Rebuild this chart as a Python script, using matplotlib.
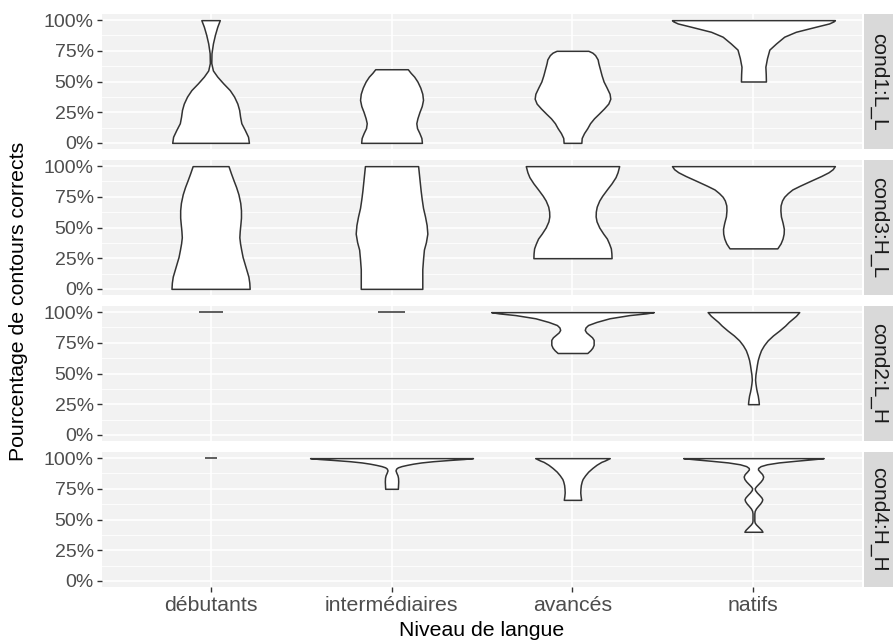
import matplotlib
matplotlib.use("Agg")
import matplotlib.pyplot as plt
import numpy as np

plt.rcParams['font.family'] = ['Liberation Sans', 'DejaVu Sans']

levels = ["débutants", "intermédiaires", "avancés", "natifs"]
conds = ["cond1:L_L", "cond3:H_L", "cond2:L_H", "cond4:H_H"]
yticks = [0, 25, 50, 75, 100]
ytick_labels = ["0%", "25%", "50%", "75%", "100%"]

# violin outlines: percentage levels and half-widths
c1_deb_y = [0, 5, 10.6, 16, 21.4, 26.8, 32, 37.7, 43, 48.5, 54, 59, 65, 73, 81, 88, 94.6, 100]
c1_deb_w = [.212, .207, .189, .170, .163, .158, .148, .130, .106, .070, .037, .013, .004, .005, .013, .024, .037, .051]
c1_int_y = [0, 4, 8, 12, 16, 20, 25, 30, 35, 40, 45, 50, 54, 57, 60]
c1_int_w = [.168, .165, .154, .141, .137, .143, .154, .167, .174, .170, .159, .143, .125, .106, .090]
c1_ava_y = [0, 4, 8, 12, 16, 20, 24, 28, 32, 36, 40, 45, 50, 55, 60, 65, 68, 71.5, 73.5, 75]
c1_ava_w = [.049, .051, .064, .082, .097, .119, .147, .174, .198, .209, .205, .189, .172, .161, .152, .143, .139, .125, .110, .088]
c1_nat_y = [50, 56, 62, 69, 76, 81, 86.5, 90.5, 94.6, 97.3, 99, 100]
c1_nat_w = [.069, .068, .066, .075, .088, .125, .170, .234, .344, .418, .443, .45]

c3_deb_y = [0, 5, 10, 16, 21, 26, 32, 37, 42, 47, 53, 58, 64, 70, 77, 83, 88, 94, 100]
c3_deb_w = [.216, .214, .209, .197, .187, .177, .169, .163, .159, .161, .165, .168, .168, .164, .154, .141, .128, .113, .099]
c3_int_y = [0, 8, 16, 24, 32, 38, 45, 52, 59, 66, 73, 80, 90, 100]
c3_int_w = [.170, .170, .170, .174, .179, .190, .198, .194, .185, .174, .167, .161, .154, .147]
c3_ava_y = [25, 29, 33, 37, 41, 45, 50, 55, 59, 63, 67, 72, 76, 81, 86, 91, 95, 100]
c3_ava_w = [.216, .215, .212, .202, .190, .170, .148, .133, .128, .129, .134, .148, .165, .190, .216, .238, .249, .258]
c3_nat_y = [33, 37, 41, 45, 49, 54, 59, 64, 68, 72, 75, 78, 81, 84, 88, 92, 95, 97.5, 100]
c3_nat_w = [.132, .150, .161, .167, .168, .161, .152, .149, .150, .158, .170, .190, .215, .256, .315, .375, .415, .438, .45]

c2_deb_y = [100]
c2_deb_w = [.066]
c2_int_y = [100]
c2_int_w = [.075]
c2_ava_y = [66.7, 69, 71, 73.4, 77.4, 79.5, 81.5, 83.5, 85.5, 87.5, 89.5, 92, 95, 97.6, 99, 100]
c2_ava_w = [.082, .099, .110, .117, .117, .108, .092, .076, .068, .072, .086, .132, .205, .315, .407, .449]
c2_nat_y = [25, 28, 32, 35, 38, 42, 45, 49, 53, 57, 61, 65, 69, 73, 77, 81, 85, 89, 92, 94.6, 97, 100]
c2_nat_w = [.030, .028, .024, .019, .015, .011, .009, .011, .015, .019, .024, .032, .042, .058, .079, .108, .143, .175, .195, .216, .235, .253]

c4_deb_y = [100]
c4_deb_w = [.033]
c4_int_y = [75, 78, 81, 84, 86, 88, 90, 91.5, 92.5, 93.5, 94.5, 95.5, 96.5, 97.5, 98.5, 99.3, 100]
c4_int_w = [.035, .036, .037, .036, .033, .027, .022, .026, .035, .055, .085, .120, .165, .230, .320, .400, .45]
c4_ava_y = [66, 69, 72, 75, 78, 81, 83, 86, 89, 92, 94.6, 97, 98, 100]
c4_ava_w = [.048, .045, .043, .044, .046, .051, .056, .070, .087, .110, .133, .160, .178, .206]
c4_nat_y = [40, 41.5, 43, 44.5, 46, 47.5, 49, 52, 55, 57, 59, 61, 63, 65, 66.5, 68, 70, 72, 74, 75.5,
            77, 79, 81, 83, 85, 87, 89, 90.8, 92, 93.5, 95, 96.5, 97.8, 99, 99.7, 100]
c4_nat_w = [.050, .044, .034, .024, .014, .007, .005, .005, .005, .007, .014, .025, .037, .046, .049, .044, .032, .019, .009, .007,
            .014, .027, .040, .050, .054, .048, .035, .025, .026, .040, .075, .140, .230, .320, .370, .388]

profiles = [
    [(c1_deb_y, c1_deb_w), (c1_int_y, c1_int_w), (c1_ava_y, c1_ava_w), (c1_nat_y, c1_nat_w)],
    [(c3_deb_y, c3_deb_w), (c3_int_y, c3_int_w), (c3_ava_y, c3_ava_w), (c3_nat_y, c3_nat_w)],
    [(c2_deb_y, c2_deb_w), (c2_int_y, c2_int_w), (c2_ava_y, c2_ava_w), (c2_nat_y, c2_nat_w)],
    [(c4_deb_y, c4_deb_w), (c4_int_y, c4_int_w), (c4_ava_y, c4_ava_w), (c4_nat_y, c4_nat_w)],
]

W, H = 895, 642
fig = plt.figure(figsize=(W / 100, H / 100), dpi=100)

px_left, px_right = 102, 862
panel_tops = [14, 160, 306, 452]
panel_h = 135
outline = "#333333"
text_grey = "#4D4D4D"

for i, cond in enumerate(conds):
    top = panel_tops[i]
    ax = fig.add_axes([px_left / W, 1 - (top + panel_h) / H,
                       (px_right - px_left) / W, panel_h / H])
    ax.set_facecolor("#F2F2F2")
    ax.set_xlim(0.4, 4.6)
    ax.set_ylim(-5, 105)
    for s in ax.spines.values():
        s.set_visible(False)
    ax.set_yticks(yticks)
    ax.set_yticklabels(ytick_labels)
    ax.set_yticks([12.5, 37.5, 62.5, 87.5], minor=True)
    ax.set_xticks(range(1, 5))
    ax.grid(True, which="major", color="white", linewidth=1.2)
    ax.grid(True, which="minor", axis="y", color="white", linewidth=0.6)
    ax.set_axisbelow(True)
    ax.tick_params(axis="both", which="major", length=3.5, width=1.0, color="#333333",
                   labelcolor=text_grey, pad=2.5)
    ax.tick_params(axis="y", labelsize=14)
    ax.tick_params(axis="x", labelsize=15.3, pad=3)
    ax.tick_params(axis="y", which="minor", length=0)
    if i < 3:
        ax.tick_params(axis="x", labelbottom=False, length=0)
    else:
        ax.set_xticklabels(levels)

    for j, (ys, ws) in enumerate(profiles[i]):
        x0 = j + 1
        ys = np.array(ys, dtype=float)
        ws = np.array(ws, dtype=float)
        if len(ys) == 1:
            ax.hlines(ys[0], x0 - ws[0], x0 + ws[0], color=outline, linewidth=1.1, zorder=3)
        else:
            ax.fill_betweenx(ys, x0 - ws, x0 + ws, facecolor="white",
                             edgecolor=outline, linewidth=1.1, zorder=3)

    # facet strip
    sax = fig.add_axes([864 / W, 1 - (top + panel_h) / H, 29 / W, panel_h / H])
    sax.set_facecolor("#D9D9D9")
    sax.set_xticks([])
    sax.set_yticks([])
    for s in sax.spines.values():
        s.set_visible(False)
    sax.text(0.5, 0.5, cond, rotation=-90, ha="center", va="center",
             fontsize=15, color="#1A1A1A", transform=sax.transAxes)

fig.text((px_left + px_right) / 2 / W, 1 - 631 / H, "Niveau de langue",
         ha="center", va="center", fontsize=15.3, color="black")
fig.text(19 / W, 1 - 301 / H, "Pourcentage de contours corrects",
         ha="center", va="center", rotation=90, fontsize=15.3, color="black")

fig.savefig("out.png", dpi=100)
